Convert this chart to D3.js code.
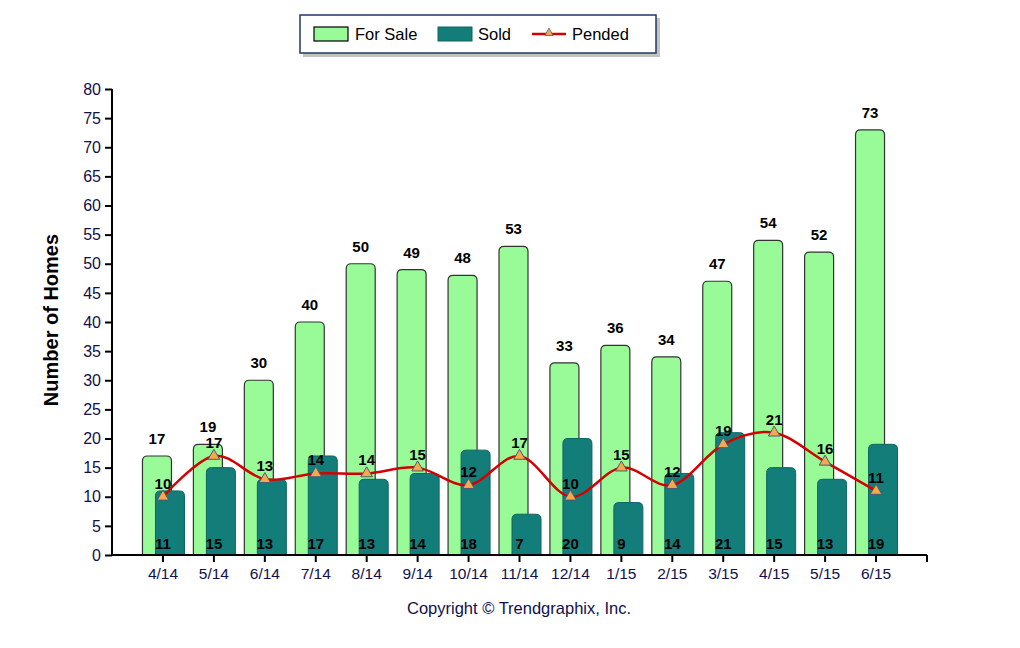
<!DOCTYPE html>
<html>
<head>
<meta charset="utf-8">
<script src="https://cdn.jsdelivr.net/npm/d3@7"></script>
<style>
  body { margin: 0; background: #fff; }
  text { font-family: Arial, "Liberation Sans", sans-serif; }
</style>
</head>
<body>
<div id="chart"></div>
<script>
var months = ["4/14","5/14","6/14","7/14","8/14","9/14","10/14","11/14","12/14","1/15","2/15","3/15","4/15","5/15","6/15"];
var forSale = [17,19,30,40,50,49,48,53,33,36,34,47,54,52,73];
var sold = [11,15,13,17,13,14,18,7,20,9,14,21,15,13,19];
var pended = [10,17,13,14,14,15,12,17,10,15,12,19,21,16,11];
var yTicks = d3.range(0, 85, 5);

var width = 1020, height = 648;
var axisLeftX = 112, axisRightX = 927;
var plotTop = 89, plotBottom = 555;

var svg = d3.select("#chart").append("svg")
    .attr("width", width)
    .attr("height", height);

var x = d3.scaleBand()
    .domain(months)
    .range([137.5, 901.5]);

var y = d3.scaleLinear()
    .domain([0, 80])
    .range([plotBottom, plotTop]);

function cx(i) { return x(months[i]) + x.bandwidth() / 2; }

// bar with rounded top corners
function barPath(x0, w, yTop, yBase, r) {
  r = Math.min(r, (yBase - yTop), w / 2);
  return "M" + x0 + "," + yBase +
    "V" + (yTop + r) +
    "Q" + x0 + "," + yTop + " " + (x0 + r) + "," + yTop +
    "H" + (x0 + w - r) +
    "Q" + (x0 + w) + "," + yTop + " " + (x0 + w) + "," + (yTop + r) +
    "V" + yBase + "Z";
}

var bw = 29;

// For Sale bars
svg.append("g").selectAll("path")
  .data(forSale)
  .enter().append("path")
  .attr("d", function(d, i) { return barPath(cx(i) - 20.5, bw, y(d), y(0), 5); })
  .attr("fill", "#98fb98")
  .attr("stroke", "#333")
  .attr("stroke-width", 1.2);

// Sold bars
svg.append("g").selectAll("path")
  .data(sold)
  .enter().append("path")
  .attr("d", function(d, i) { return barPath(cx(i) - 7.5, bw, y(d), y(0), 5); })
  .attr("fill", "#137d79")
  .attr("stroke", "#0e6460")
  .attr("stroke-width", 1);

// For Sale labels
svg.append("g").selectAll("text")
  .data(forSale)
  .enter().append("text")
  .attr("x", function(d, i) { return cx(i) - 6; })
  .attr("y", function(d) { return y(d) - 12; })
  .attr("text-anchor", "middle")
  .attr("font-size", 15)
  .attr("font-weight", "bold")
  .attr("fill", "#000")
  .text(function(d) { return d; });

// Sold labels
svg.append("g").selectAll("text")
  .data(sold)
  .enter().append("text")
  .attr("x", function(d, i) { return cx(i); })
  .attr("y", 549)
  .attr("text-anchor", "middle")
  .attr("font-size", 15)
  .attr("font-weight", "bold")
  .attr("fill", "#000")
  .text(function(d) { return d; });

// Pended line
var line = d3.line()
  .x(function(d, i) { return cx(i); })
  .y(function(d) { return y(d); })
  .curve(d3.curveCardinal.tension(0));

svg.append("path")
  .datum(pended)
  .attr("d", line)
  .attr("fill", "none")
  .attr("stroke", "#d40000")
  .attr("stroke-width", 2.5);

var tri = d3.symbol().type(d3.symbolTriangle).size(58);
svg.append("g").selectAll("path")
  .data(pended)
  .enter().append("path")
  .attr("d", tri)
  .attr("transform", function(d, i) { return "translate(" + cx(i) + "," + y(d) + ")"; })
  .attr("fill", "#f5a94a")
  .attr("stroke", "#4a5a7a")
  .attr("stroke-width", 1);

svg.append("g").selectAll("text")
  .data(pended)
  .enter().append("text")
  .attr("x", function(d, i) { return cx(i); })
  .attr("y", function(d) { return y(d) - 8; })
  .attr("text-anchor", "middle")
  .attr("font-size", 15)
  .attr("font-weight", "bold")
  .attr("fill", "#000")
  .text(function(d) { return d; });

// Y axis
var yAxis = d3.axisLeft(y).tickValues(yTicks).tickSize(7).tickPadding(4);
var gy = svg.append("g")
  .attr("transform", "translate(" + axisLeftX + ",0)")
  .call(yAxis);
gy.select(".domain").attr("stroke", "#000").attr("stroke-width", 2).attr("d", "M0," + plotTop + "V" + plotBottom);
gy.selectAll(".tick line").attr("stroke", "#000").attr("stroke-width", 2);
gy.selectAll(".tick text").attr("font-size", 16).attr("fill", "#10104a")
  .attr("font-family", "Arial, 'Liberation Sans', sans-serif");

// X axis
var xAxis = d3.axisBottom(x).tickSize(7).tickPadding(6);
var gx = svg.append("g")
  .attr("transform", "translate(0," + plotBottom + ")")
  .call(xAxis);
gx.select(".domain").attr("stroke", "#000").attr("stroke-width", 2).attr("d", "M" + axisLeftX + ",0H" + axisRightX);
gx.selectAll(".tick line").attr("stroke", "#000").attr("stroke-width", 2);
gx.selectAll(".tick text").attr("font-size", 15.5).attr("fill", "#10104a")
  .attr("font-family", "Arial, 'Liberation Sans', sans-serif");
gx.append("line")
  .attr("x1", axisRightX).attr("x2", axisRightX)
  .attr("y1", 0).attr("y2", 7)
  .attr("stroke", "#000").attr("stroke-width", 2);

// Y title
svg.append("text")
  .attr("transform", "translate(58,320) rotate(-90)")
  .attr("text-anchor", "middle")
  .attr("font-size", 20)
  .attr("font-weight", "bold")
  .attr("fill", "#000")
  .text("Number of Homes");

// Copyright
svg.append("text")
  .attr("x", 519)
  .attr("y", 614)
  .attr("text-anchor", "middle")
  .attr("font-size", 16.5)
  .attr("fill", "#10104a")
  .text("Copyright \u00A9 Trendgraphix, Inc.");

// Legend
var lg = svg.append("g");
lg.append("rect")
  .attr("x", 303).attr("y", 18).attr("width", 357).attr("height", 39)
  .attr("fill", "#999").attr("opacity", 0.6);
lg.append("rect")
  .attr("x", 300).attr("y", 15).attr("width", 356).attr("height", 38)
  .attr("fill", "#fff").attr("stroke", "#1f3864").attr("stroke-width", 1.5);

lg.append("rect")
  .attr("x", 314).attr("y", 27).attr("width", 34).attr("height", 14)
  .attr("fill", "#98fb98").attr("stroke", "#000").attr("stroke-width", 1.2);
lg.append("text").attr("x", 355).attr("y", 40).attr("font-size", 16.5).attr("fill", "#000").text("For Sale");

lg.append("rect")
  .attr("x", 438).attr("y", 27).attr("width", 34).attr("height", 14)
  .attr("fill", "#137d79").attr("stroke", "#0e6460").attr("stroke-width", 1);
lg.append("text").attr("x", 478).attr("y", 40).attr("font-size", 16.5).attr("fill", "#000").text("Sold");

lg.append("line")
  .attr("x1", 532).attr("x2", 566).attr("y1", 34).attr("y2", 34)
  .attr("stroke", "#d40000").attr("stroke-width", 2.5);
lg.append("path")
  .attr("d", d3.symbol().type(d3.symbolTriangle).size(30))
  .attr("transform", "translate(549,33)")
  .attr("fill", "#f5a94a").attr("stroke", "#4a5a7a").attr("stroke-width", 0.8);
lg.append("text").attr("x", 572).attr("y", 40).attr("font-size", 16.5).attr("fill", "#000").text("Pended");
</script>
</body>
</html>
